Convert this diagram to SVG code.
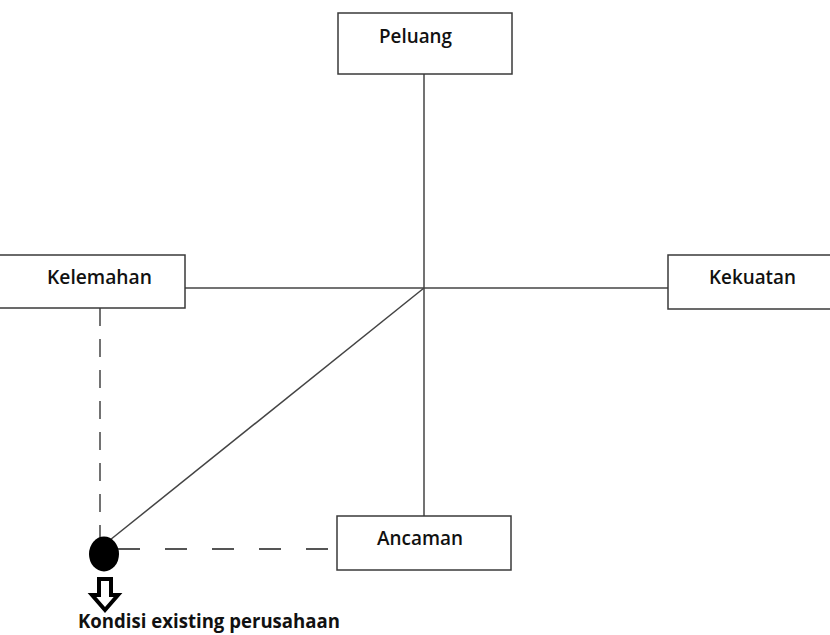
<svg xmlns="http://www.w3.org/2000/svg" width="830" height="635" viewBox="0 0 830 635">
  <style>
    .box { fill: #ffffff; stroke: #3a3a3a; stroke-width: 1.5; }
    .lbl { font-family: "Open Sans", "Liberation Sans", sans-serif; font-size: 19.5px; font-weight: 600; fill: #111111; }
    .axis { stroke: #444444; stroke-width: 1.5; fill: none; }
    .dash-v { stroke: #444444; stroke-width: 1.5; stroke-dasharray: 18 13; fill: none; }
    .dash-h { stroke: #555555; stroke-width: 1.8; stroke-dasharray: 22 25; fill: none; }
  </style>

  <rect width="830" height="635" fill="#ffffff"/>

  <!-- connectors -->
  <g id="connectors">
    <line class="axis" x1="424" y1="74" x2="424" y2="516"/>
    <line class="axis" x1="185" y1="288" x2="668" y2="288"/>
    <line class="axis" x1="424" y1="288" x2="110" y2="540"/>
    <line class="dash-v" x1="100" y1="308" x2="100" y2="548"/>
    <line class="dash-h" x1="118" y1="549" x2="337" y2="549"/>
  </g>

  <g id="peluang">
    <rect class="box" x="338" y="13" width="174" height="61"/>
    <text class="lbl" x="379" y="43" textLength="73" lengthAdjust="spacingAndGlyphs">Peluang</text>
  </g>

  <g id="kelemahan">
    <rect class="box" x="-2" y="255" width="187" height="53"/>
    <text class="lbl" x="47" y="284" textLength="105" lengthAdjust="spacingAndGlyphs">Kelemahan</text>
  </g>

  <g id="kekuatan">
    <rect class="box" x="668" y="255" width="170" height="54"/>
    <text class="lbl" x="709" y="284" textLength="87" lengthAdjust="spacingAndGlyphs">Kekuatan</text>
  </g>

  <g id="ancaman">
    <rect class="box" x="337" y="516" width="174" height="54"/>
    <text class="lbl" x="377" y="545" textLength="86" lengthAdjust="spacingAndGlyphs">Ancaman</text>
  </g>

  <g id="kondisi">
    <ellipse cx="104" cy="554" rx="15" ry="17.5" fill="#000000"/>
    <path d="M99,579 H111 V595 H118 L105,610 L92,595 H99 Z" fill="#ffffff" stroke="#000000" stroke-width="4" stroke-linejoin="miter"/>
    <text x="78" y="628" font-family="Open Sans, Liberation Sans, sans-serif" font-size="19" font-weight="700" fill="#111111" textLength="262" lengthAdjust="spacingAndGlyphs">Kondisi existing perusahaan</text>
  </g>
</svg>
